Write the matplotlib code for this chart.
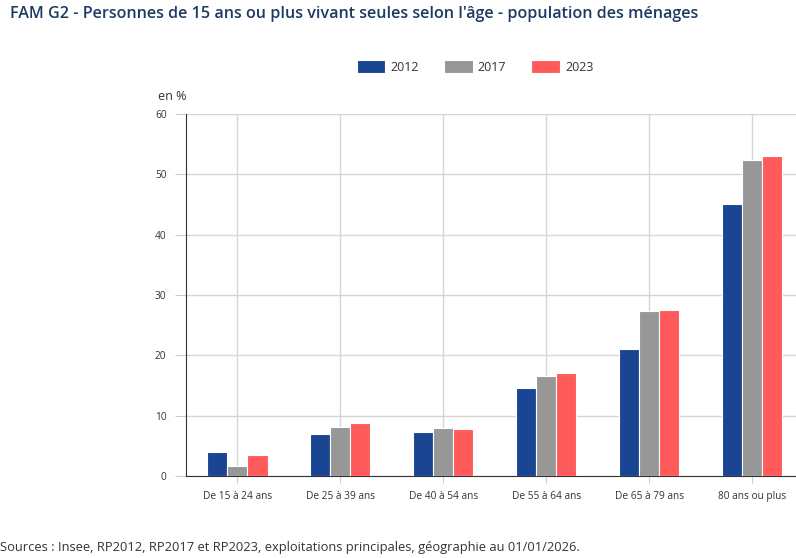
import numpy as np
import matplotlib
matplotlib.use("Agg")
from matplotlib import pyplot as plt

plt.rcParams['font.family'] = ['Open Sans', 'DejaVu Sans']

categories = ["De 15 à 24 ans", "De 25 à 39 ans", "De 40 à 54 ans",
              "De 55 à 64 ans", "De 65 à 79 ans", "80 ans ou plus"]
years = ["2012", "2017", "2023"]
v2012 = [4.0, 7.0, 7.3, 14.6, 21.0, 45.1]
v2017 = [1.7, 8.1, 8.0, 16.5, 27.4, 52.4]
v2023 = [3.5, 8.8, 7.8, 17.1, 27.5, 53.0]
colors = ["#1a4592", "#979797", "#ff5b5b"]

W, H = 796, 558
fig = plt.figure(figsize=(W / 100, H / 100), dpi=100)
ax = fig.add_axes([186 / W, (H - 476) / H, (W - 186) / W, (476 - 114) / H])

x = np.arange(len(categories))
bw = 0.195
for i, (vals, c, lab) in enumerate(zip([v2012, v2017, v2023], colors, years)):
    ax.bar(x + (i - 1) * bw, vals, bw, color=c, edgecolor="white",
           linewidth=0.8, label=lab, zorder=3)

ax.set_xlim(-0.5, 5.5 - 7.5 / 103)
ax.set_ylim(0, 60)
ax.set_yticks(range(0, 61, 10))
ax.set_xticks(x)
ax.set_xticklabels(categories)
ax.grid(True, color="#d6d6d6", linewidth=1, zorder=0)
for s in ["top", "right"]:
    ax.spines[s].set_visible(False)
ax.spines["left"].set_color("#333333")
ax.spines["bottom"].set_color("#333333")
ax.tick_params(axis="x", length=5, color="#cccccc", labelsize=7.3,
               labelcolor="#333333", pad=6)
ax.tick_params(axis="y", length=8, color="#cccccc", labelsize=7.3,
               labelcolor="#333333", pad=6)

fig.text(158 / W, 1 - 97 / H, "en %", fontsize=9, color="#333333", va="center")
fig.text(10 / W, 1 - 14 / H,
         "FAM G2 - Personnes de 15 ans ou plus vivant seules selon l'âge - population des ménages",
         fontsize=11.6, fontweight="semibold", color="#1d3a63", va="center")
fig.text(0, 1 - 548 / H,
         "Sources : Insee, RP2012, RP2017 et RP2023, exploitations principales, géographie au 01/01/2026.",
         fontsize=9.3, color="#333333", va="center")

ax.legend(loc="center", bbox_to_anchor=(475 / W, 1 - 67 / H),
          bbox_transform=fig.transFigure, ncol=3, frameon=False,
          fontsize=9, handlelength=2.3, handleheight=1.2,
          handletextpad=0.4, columnspacing=2.0, labelcolor="#333333")

fig.savefig("out.png", dpi=100)
